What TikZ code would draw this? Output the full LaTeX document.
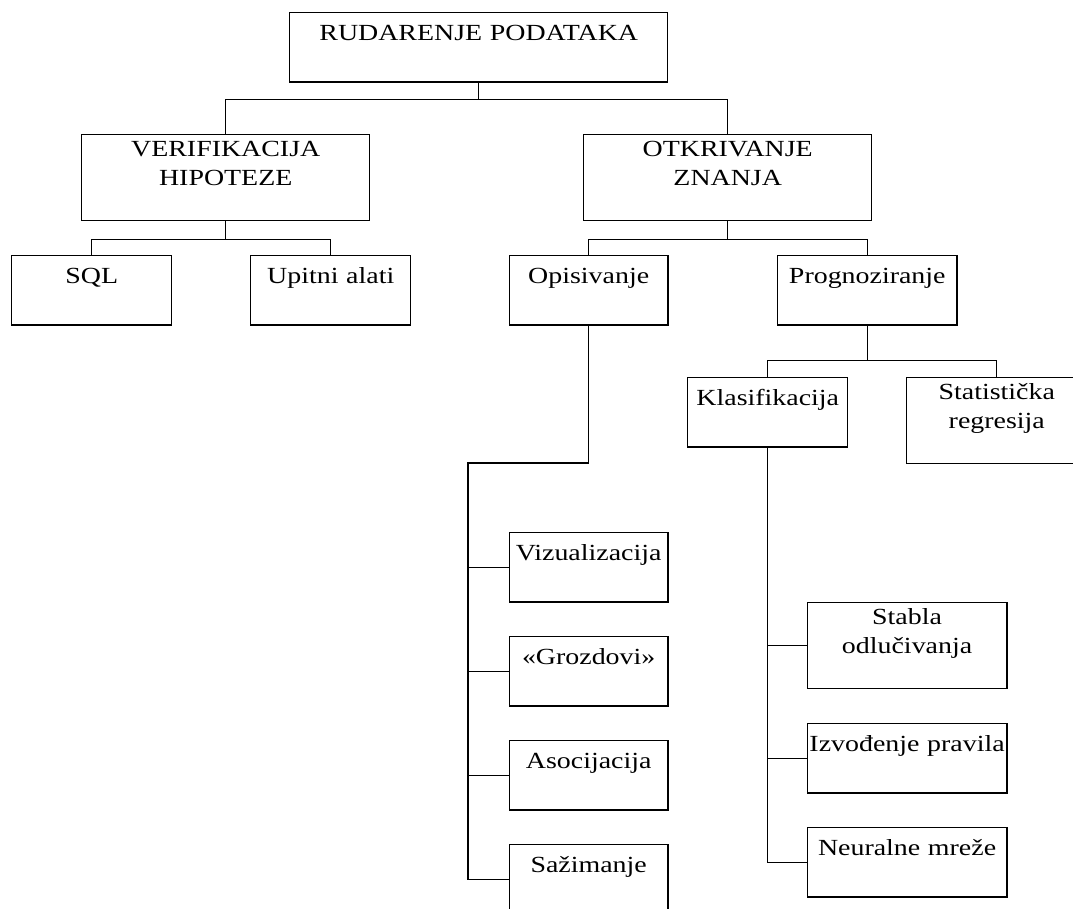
\documentclass[tikz,border=0pt]{standalone}
\usepackage{fontspec}
\setmainfont{Liberation Serif}[FakeStretch=1.21]
\usepackage{tikz}
\usetikzlibrary{positioning}

\begin{document}
\begin{tikzpicture}[x=0.75pt,y=-0.75pt,line width=1.1pt,
                    font=\fontsize{17.3pt}{21.5pt}\selectfont,
                    box/.style={draw,anchor=north west,inner sep=0pt,align=center},
                    low box/.style={box,text height=20.8pt,text depth=31pt},
                    tall box/.style={box,text height=16.5pt,text depth=48pt}]

\useasboundingbox (0,0) rectangle (1073,908);
\clip (0,0) rectangle (1073,908);

\node[low box] (RP) at (289,12) [text width=283.5pt] {RUDARENJE PODATAKA};

\node[tall box] (VH) at (81,134) [text width=216pt] {VERIFIKACIJA\\HIPOTEZE};
\node[tall box] (OZ) at (583,134) [text width=216pt] {OTKRIVANJE\\ZNANJA};

\node[low box] (SQL) at (11,255) [text width=120pt] {SQL};
\node[low box] (UA) at (250,255) [text width=120pt] {Upitni alati};
\node[low box] (OP) at (508.6,255) [text width=119pt] {Opisivanje};
\node[low box] (PR) at (777,255) [text width=134.3pt] {Prognoziranje};

\node[low box] (KL) at (687,377) [text width=120pt] {Klasifikacija};
\node[tall box] (SR) at (906,377) [text width=135pt] {Statistička\\regresija};

\node[low box] (VI) at (508.6,532) [text width=119pt] {Vizualizacija};
\node[low box] (GR) at (508.6,636) [text width=119pt] {«Grozdovi»};
\node[low box] (AS) at (508.6,740) [text width=119pt] {Asocijacija};
\node[low box] (SA) at (508.6,844) [text width=119pt] {Sažimanje};

\node[tall box] (SO) at (806.6,602) [text width=149.6pt] {Stabla\\odlučivanja};
\node[low box] (IP) at (806.6,723) [text width=149.6pt] {Izvođenje pravila};
\node[low box] (NM) at (806.6,827) [text width=149.6pt] {Neuralne mreže};

\coordinate (OPB) at (468,463);

\draw (RP.south) -- ++(0,17) -| (VH.north);
\draw (RP.south) -- ++(0,17) -| (OZ.north);
\draw (VH.south) -- ++(0,18) -| (SQL.north);
\draw (VH.south) -- ++(0,18) -| (UA.north);
\draw (OZ.south) -- ++(0,18) -| (OP.north);
\draw (OZ.south) -- ++(0,18) -| (PR.north);
\draw (PR.south) -- ++(0,35) -| (KL.north);
\draw (PR.south) -- ++(0,35) -| (SR.north);

\draw (OP.south) |- (OPB) |- (SA.west);
\draw (OPB |- VI.west) -- (VI.west);
\draw (OPB |- GR.west) -- (GR.west);
\draw (OPB |- AS.west) -- (AS.west);

\draw (KL.south) |- (NM.west);
\draw (KL.south |- SO.west) -- (SO.west);
\draw (KL.south |- IP.west) -- (IP.west);
\end{tikzpicture}
\end{document}
